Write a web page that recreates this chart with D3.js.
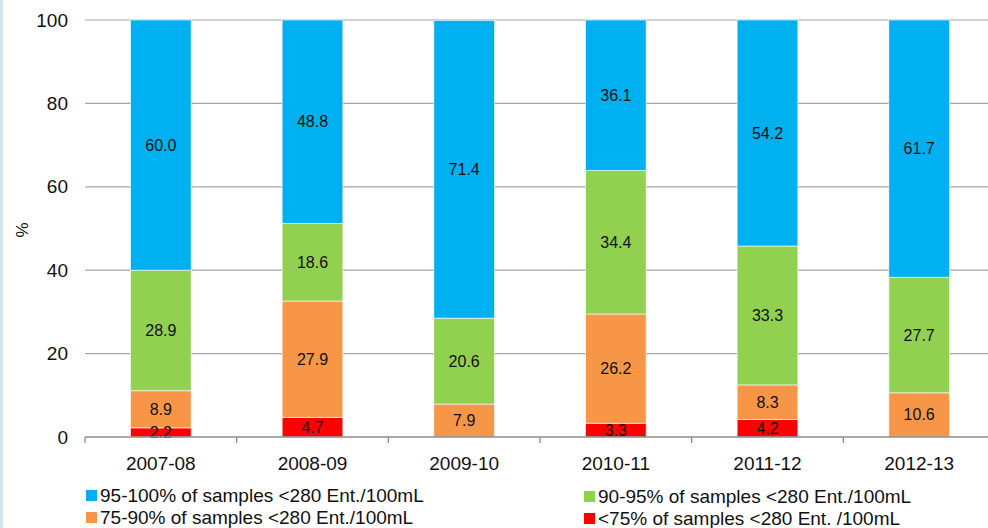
<!DOCTYPE html>
<html>
<head>
<meta charset="utf-8">
<script src="https://cdn.jsdelivr.net/npm/d3@7"></script>
<style>
  html, body { margin: 0; padding: 0; background: #fff; }
  svg { display: block; font-family: "Liberation Sans", Arial, sans-serif; }
</style>
</head>
<body>
<svg id="chart" width="988" height="528"></svg>
<script>
// Seasons on the x axis
const categories = ["2007-08", "2008-09", "2009-10", "2010-11", "2011-12", "2012-13"];

// Share of sites (%) in each compliance band, stacked bottom to top
const below75 = [2.2, 4.7, 0, 3.3, 4.2, 0];
const band75to90 = [8.9, 27.9, 7.9, 26.2, 8.3, 10.6];
const band90to95 = [28.9, 18.6, 20.6, 34.4, 33.3, 27.7];
const band95to100 = [60.0, 48.8, 71.4, 36.1, 54.2, 61.7];

const yTicks = [0, 20, 40, 60, 80, 100];

const seriesNames = [
  "<75% of samples <280 Ent. /100mL",
  "75-90% of samples <280 Ent./100mL",
  "90-95% of samples <280 Ent./100mL",
  "95-100% of samples <280 Ent./100mL"
];
const seriesValues = [below75, band75to90, band90to95, band95to100];
const seriesColors = ["#ff0000", "#f79646", "#92d050", "#00b0f0"];

const svg = d3.select("#chart");
const plot = { left: 85, right: 995, top: 20, bottom: 437 };

// thin tinted strip along the left edge
svg.append("rect").attr("x", 0).attr("y", 0).attr("width", 3).attr("height", 528)
  .attr("fill", "#d3e3ea");

const x = d3.scaleBand().domain(categories).range([plot.left, plot.right]).paddingInner(0.6).paddingOuter(0.3);
const y = d3.scaleLinear().domain([0, 100]).range([plot.bottom, plot.top]);

// horizontal gridlines
svg.append("g").selectAll("line").data(yTicks.filter(t => t > 0)).join("line")
  .attr("x1", plot.left).attr("x2", 988)
  .attr("y1", d => y(d)).attr("y2", d => y(d))
  .attr("stroke", "#a6a6a6").attr("stroke-width", 1.2);

// y tick labels
svg.append("g").selectAll("text").data(yTicks).join("text")
  .attr("x", 68).attr("y", d => y(d)).attr("dy", "0.35em")
  .attr("text-anchor", "end").attr("font-size", 19).attr("fill", "#111")
  .text(d => d);

// y axis title
svg.append("text").attr("transform", "translate(28,230) rotate(-90)")
  .attr("text-anchor", "middle").attr("font-size", 17).attr("fill", "#111").text("%");

// stacked data
const table = categories.map((c, i) => {
  const row = { cat: c };
  seriesValues.forEach((s, k) => row["s" + k] = s[i]);
  return row;
});
const keys = seriesValues.map((_, k) => "s" + k);
const stacked = d3.stack().keys(keys)(table);

const layers = svg.append("g").selectAll("g").data(stacked).join("g")
  .attr("fill", (d, k) => seriesColors[k]);

layers.selectAll("rect").data(d => d.filter(p => p[1] - p[0] > 0)).join("rect")
  .attr("x", d => x(d.data.cat))
  .attr("width", x.bandwidth())
  .attr("y", d => y(d[1]))
  .attr("height", d => y(d[0]) - y(d[1]))
  .attr("stroke", "rgba(255,255,255,0.6)").attr("stroke-width", 1);

// value labels centred in each segment
const labels = svg.append("g");
stacked.forEach((layer, k) => {
  layer.forEach(p => {
    const v = p[1] - p[0];
    if (v <= 0) return;
    labels.append("text")
      .attr("x", x(p.data.cat) + x.bandwidth() / 2)
      .attr("y", y((p[0] + p[1]) / 2)).attr("dy", "0.35em")
      .attr("text-anchor", "middle").attr("font-size", 16).attr("fill", "#111")
      .text(seriesValues[k][categories.indexOf(p.data.cat)].toFixed(1));
  });
});

// x axis line with tick marks between categories
svg.append("line").attr("x1", plot.left).attr("x2", 988)
  .attr("y1", plot.bottom).attr("y2", plot.bottom)
  .attr("stroke", "#8c8c8c").attr("stroke-width", 1.3);
const step = x.step();
svg.append("g").selectAll("line").data(d3.range(categories.length + 1)).join("line")
  .attr("x1", i => plot.left + i * step).attr("x2", i => plot.left + i * step)
  .attr("y1", plot.bottom).attr("y2", plot.bottom + 6)
  .attr("stroke", "#8c8c8c").attr("stroke-width", 1.3);

svg.append("g").selectAll("text").data(categories).join("text")
  .attr("x", d => x(d) + x.bandwidth() / 2).attr("y", 463).attr("dy", "0.35em")
  .attr("text-anchor", "middle").attr("font-size", 19).attr("fill", "#111")
  .text(d => d);

// legend: two columns, two rows
const legendItems = [
  { k: 3, x: 86, y: 495 },
  { k: 2, x: 584, y: 496 },
  { k: 1, x: 86, y: 517 },
  { k: 0, x: 584, y: 518 }
];
const lg = svg.append("g").selectAll("g").data(legendItems).join("g")
  .attr("transform", d => `translate(${d.x},${d.y})`);
lg.append("rect").attr("x", 0).attr("y", -5).attr("width", 11).attr("height", 11)
  .attr("fill", d => seriesColors[d.k]);
lg.append("text").attr("x", 14).attr("y", 0).attr("dy", "0.35em")
  .attr("font-size", 19).attr("fill", "#111").text(d => seriesNames[d.k]);
</script>
</body>
</html>
